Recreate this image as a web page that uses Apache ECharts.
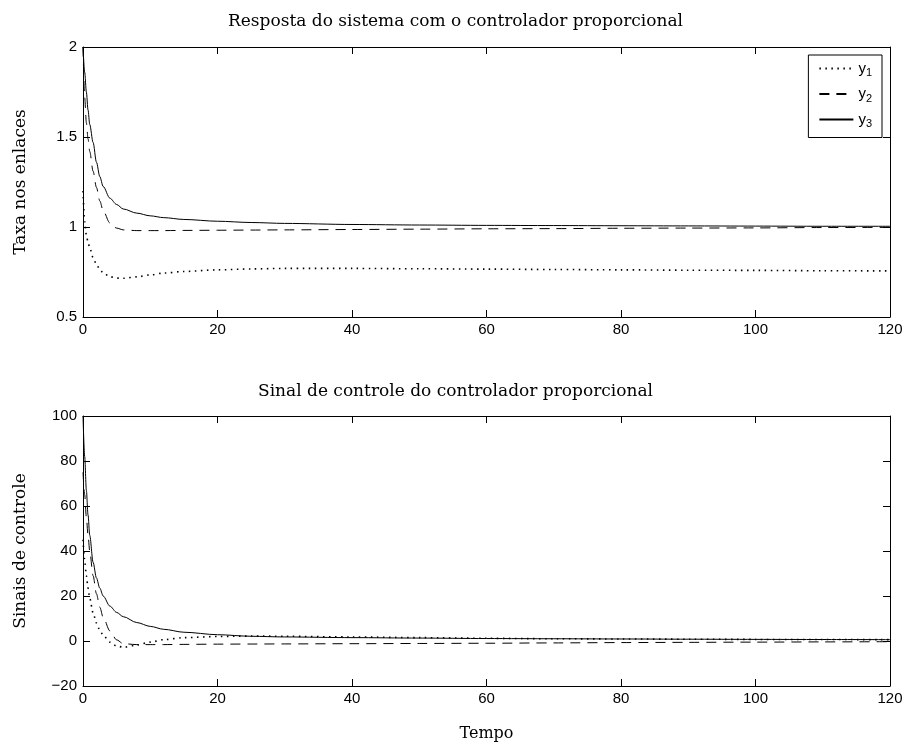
<!DOCTYPE html>
<html>
<head>
<meta charset="utf-8">
<script src="https://cdn.jsdelivr.net/npm/echarts@6/dist/echarts.min.js"></script>
<style>html,body{margin:0;padding:0;background:#fff}#c{width:911px;height:749px}</style>
</head>
<body>
<div id="c"></div>
<script>
// Time samples
var tempo = [0,0.25,0.5,0.75,1,1.5,2,2.5,3,4,5,6,8,10,12,15,20,25,30,40,50,60,70,80,90,100,110,120];
// Top plot: Taxa nos enlaces
var taxaY1 = [1.2,1.03,0.955,0.915,0.885,0.83,0.792,0.765,0.745,0.724,0.716,0.715,0.723,0.734,0.744,0.753,0.762,0.767,0.77,0.77,0.768,0.766,0.764,0.762,0.76,0.759,0.757,0.756];
var taxaY2 = [2.0,1.72,1.58,1.49,1.42,1.31,1.22,1.145,1.09,1.022,0.994,0.984,0.98,0.98,0.98,0.981,0.982,0.983,0.984,0.986,0.988,0.99,0.991,0.993,0.994,0.995,0.997,0.998];
var taxaY3 = [2.0,1.86,1.75,1.65,1.57,1.47,1.36,1.28,1.225,1.16,1.125,1.10,1.077,1.062,1.052,1.042,1.032,1.025,1.02,1.014,1.011,1.009,1.008,1.007,1.006,1.005,1.004,1.004];
// Bottom plot: Sinais de controle
var sinalY1 = [45,36,29,23.5,19,12.5,8,4.8,2.5,-0.5,-2.2,-2.8,-1.8,-0.5,0.6,1.5,2.0,2.2,2.1,1.8,1.5,1.2,1.0,0.9,0.8,0.7,0.65,0.6];
var sinalY2 = [75,65,55,47,40,29,21,15,10.5,4.5,0.5,-1.2,-1.6,-1.6,-1.6,-1.5,-1.4,-1.35,-1.3,-1.2,-1.1,-1.0,-0.85,-0.7,-0.6,-0.5,-0.4,-0.3];
var sinalY3 = [100,82,67,56,47,35,28,23.5,20,15.5,12.7,10.8,8.2,6.5,5.2,3.9,2.8,2.1,1.8,1.5,1.3,1.1,1.0,0.9,0.8,0.72,0.66,0.6];

var seriesNames = ['y1','y2','y3'];
var titles = ['Resposta do sistema com o controlador proporcional','Sinal de controle do controlador proporcional'];
var yNames = ['Taxa nos enlaces','Sinais de controle'];
var xName = 'Tempo';

function pairs(v){ return tempo.map(function(t,i){ return [t, v[i]]; }); }

var serif = 'DejaVu Serif';
var sans = 'Liberation Sans';
var styles = [
  {type:[1.5,4.5], width:1.6},
  {type:[10,7], width:1},
  {type:'solid', width:1}
];

function xAx(grid, pos, showLabel, name){
  return {
    type:'value', gridIndex:grid, position:pos, min:0, max:120, interval:20,
    axisLine:{show:true, onZero:false, lineStyle:{color:'#000', width:1}},
    axisTick:{show:true, inside:true, length:7, lineStyle:{color:'#000'}},
    axisLabel:{show:showLabel, color:'#000', fontFamily:sans, fontSize:15, margin:5},
    splitLine:{show:false},
    name: name || '', nameLocation:'middle', nameGap:40,
    nameTextStyle:{fontFamily:serif, fontSize:16, color:'#000'}
  };
}
function yAx(grid, pos, showLabel, min, max, interval, name){
  return {
    type:'value', gridIndex:grid, position:pos, min:min, max:max, interval:interval,
    axisLine:{show:true, onZero:false, lineStyle:{color:'#000', width:1}},
    axisTick:{show:true, inside:true, length:7, lineStyle:{color:'#000'}},
    axisLabel:{show:showLabel, color:'#000', fontFamily:sans, fontSize:15, margin:6,
      formatter:function(v){ return String(v).replace('-','\u2212'); }},
    splitLine:{show:false},
    name: name || '', nameLocation:'middle', nameRotate:90, nameGap:54,
    nameTextStyle:{fontFamily:serif, fontSize:17, color:'#000'}
  };
}

var series = [];
var topData = [taxaY1, taxaY2, taxaY3];
var botData = [sinalY1, sinalY2, sinalY3];
function mk(d,i,ax){
  return {name:seriesNames[i], type:'line', xAxisIndex:ax, yAxisIndex:ax, data:pairs(d),
    showSymbol:false, symbol:'none', smooth:0.3, smoothMonotone:'x', animation:false,
    lineStyle:{color:'#000', width:styles[i].width, type:styles[i].type}, itemStyle:{color:'#000'}};
}
topData.forEach(function(d,i){ series.push(mk(d,i,0)); });
botData.forEach(function(d,i){ series.push(mk(d,i,2)); });

var chart = echarts.init(document.getElementById('c'), null, {renderer:'canvas'});
chart.setOption({
  backgroundColor:'#fff',
  animation:false,
  title:[
    {text:titles[0], left:'center', top:8, textStyle:{fontFamily:serif, fontSize:17, fontWeight:'normal', color:'#000'}},
    {text:titles[1], left:'center', top:378, textStyle:{fontFamily:serif, fontSize:17, fontWeight:'normal', color:'#000'}}
  ],
  grid:[
    {left:83, top:47, width:807, height:270},
    {left:83, top:416, width:807, height:270}
  ],
  xAxis:[ xAx(0,'bottom',true), xAx(0,'top',false), xAx(1,'bottom',true,xName), xAx(1,'top',false) ],
  yAxis:[ yAx(0,'left',true,0.5,2,0.5,yNames[0]), yAx(0,'right',false,0.5,2,0.5),
          yAx(1,'left',true,-20,100,20,yNames[1]), yAx(1,'right',false,-20,100,20) ],
  legend:{
    data:seriesNames, orient:'vertical', right:29, top:55,
    backgroundColor:'#fff', borderColor:'#000', borderWidth:1, borderRadius:0,
    padding:[6,10,8,10], itemGap:8, itemWidth:34, itemHeight:14,
    selectedMode:false,
    itemStyle:{color:'rgba(0,0,0,0)', borderWidth:0, opacity:0},
    formatter:function(n){ return 'y{s|' + n.slice(1) + '}'; },
    textStyle:{fontFamily:sans, fontSize:15, color:'#000',
      rich:{s:{fontFamily:sans, fontSize:11, color:'#000', padding:[9,0,0,0]}}}
  },
  series:series
});
</script>
</body>
</html>
